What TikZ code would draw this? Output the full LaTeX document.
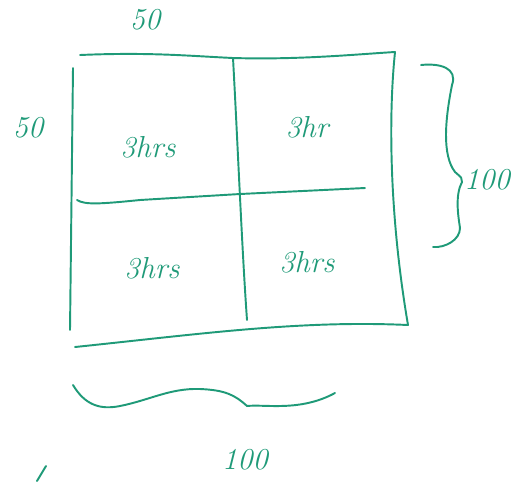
\documentclass[tikz,border=0pt]{standalone}
\usepackage{tikz}
\usetikzlibrary{calc}
\definecolor{penteal}{HTML}{1F9A78}

\begin{document}
\begin{tikzpicture}[x=0.02cm,y=-0.02cm,font=\LARGE\itshape,
    pen/.style={line width=1.1pt,penteal,line cap=round,line join=round},
    scrawl/.style={penteal,inner sep=0pt}]
    \useasboundingbox (0,0) rectangle (519,481);
    % corners of the plot
    \coordinate (tl) at (80,55);
    \coordinate (tm) at (233,58);
    \coordinate (tr) at (395,52);
    \coordinate (ml) at (77,200);
    \coordinate (mr) at (365,188);
    \coordinate (bm) at (247,320);
    \coordinate (br) at (408,325);
    \coordinate (bl) at (75,347);
    % outline and the cross
    \draw[pen] (tl) .. controls (150,52) and (190,56) .. (tm) .. controls (300,60) and (360,54) .. (tr);
    \draw[pen] (73,68) -- (70,330);
    \draw[pen] (tr) .. controls (388,120) and (390,220) .. (br);
    \draw[pen] (bl) .. controls (200,334) and (300,320) .. (br);
    \draw[pen] (tm) .. controls (238,150) and (242,250) .. (bm);
    \draw[pen] (ml) .. controls (85,205) and (100,204) .. (140,200) -- (240,194) -- (mr);
    % braces
    \draw[pen] (421,65) .. controls (440,63) and (458,68) .. (452,85)
      .. controls (445,120) and (442,155) .. (455,172) .. controls (462,178) .. (462,182)
      .. controls (455,195) and (458,215) .. (460,228) .. controls (460,240) and (445,248) .. (433,247);
    \draw[pen] (73,385) .. controls (85,405) and (100,410) .. (120,406)
      .. controls (150,400) and (170,388) .. (200,389) .. controls (225,390) and (235,395) .. (247,406)
      .. controls (265,404) and (300,412) .. (335,393);
    % stray mark
    \draw[pen] (37,481) -- (46,466);
    % labels
    \node[scrawl] (top) at (145,20) {50};
    \node[scrawl] (left) at (28,128) {50};
    \node[scrawl] (right) at (487,180) {100};
    \node[scrawl] (bottom) at (245,460) {100};
    \node[scrawl] (c11) at (148,147) {3hrs};
    \node[scrawl] (c12) at (307,127) {3hr};
    \node[scrawl] (c21) at (152,268) {3hrs};
    \node[scrawl] (c22) at (307,262) {3hrs};
\end{tikzpicture}
\end{document}
